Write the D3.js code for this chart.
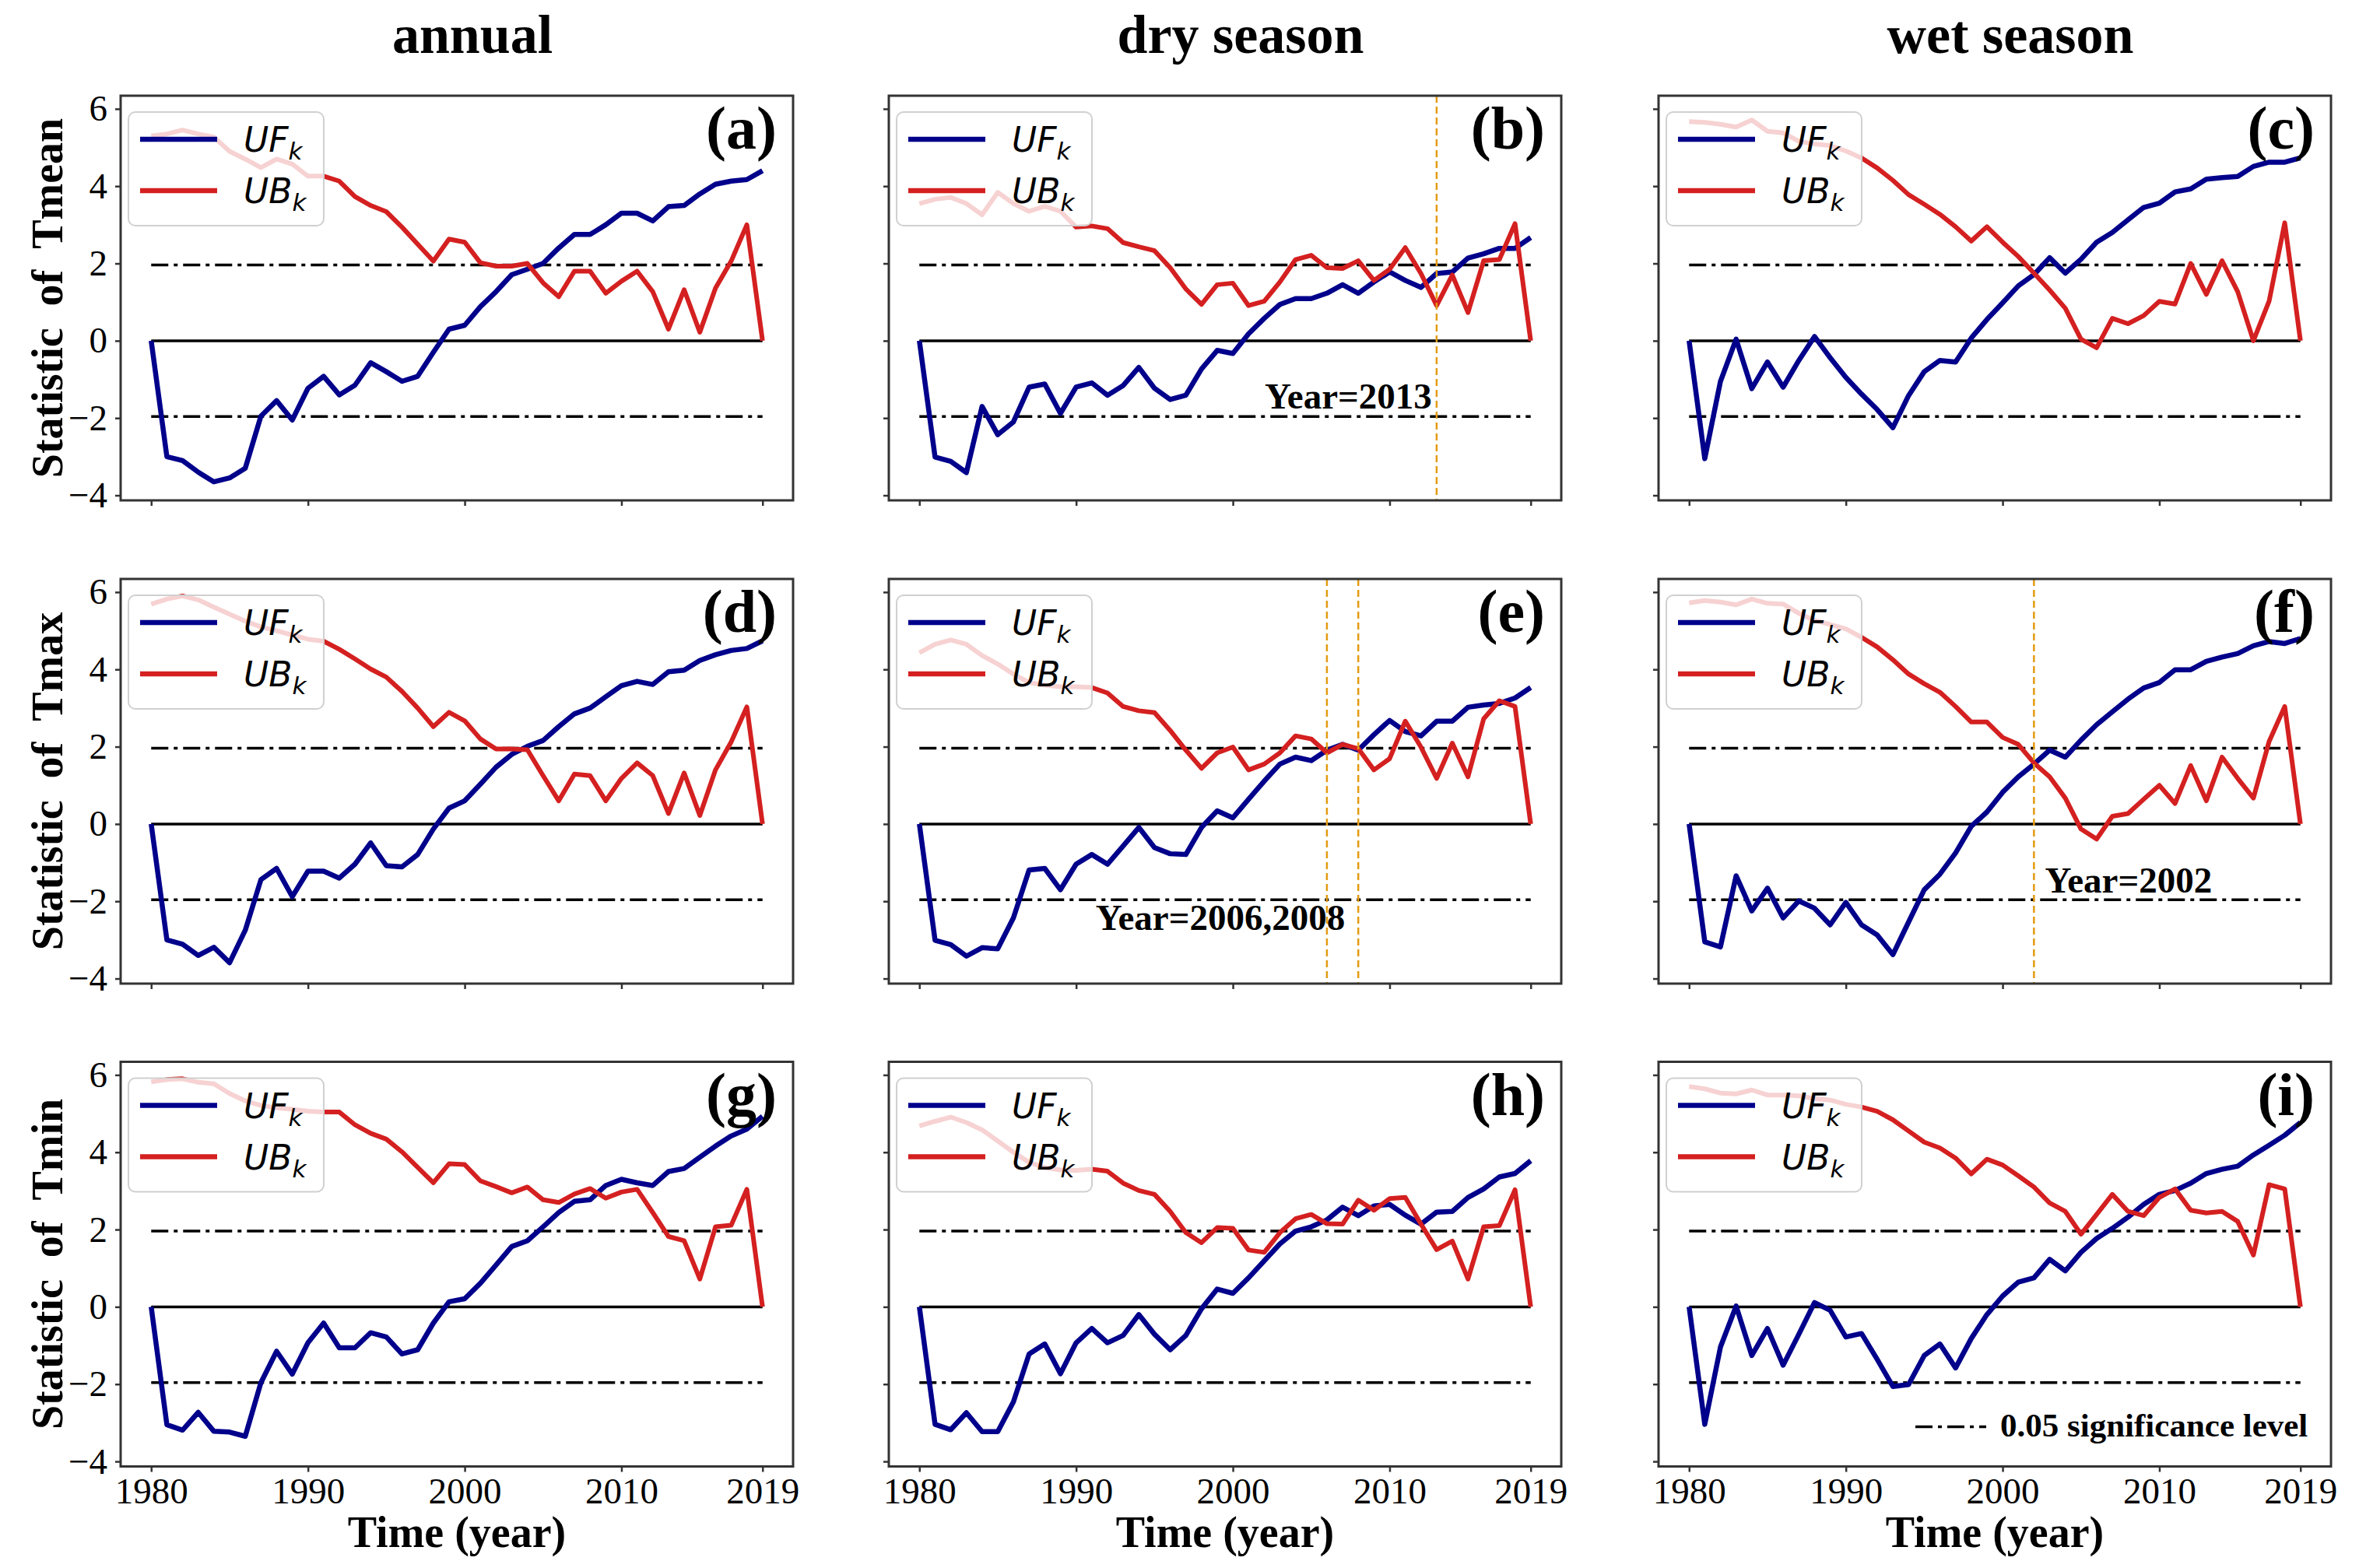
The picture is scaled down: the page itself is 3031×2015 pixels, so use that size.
<!DOCTYPE html>
<html>
<head>
<meta charset="utf-8">
<script src="https://cdn.jsdelivr.net/npm/d3@7"></script>
<style>
  body { margin: 0; background: #fff; }
</style>
</head>
<body>
<div id="app"></div>
<script>
const width = 3031,
    height = 2015;

const years = [1980, 1981, 1982, 1983, 1984, 1985, 1986, 1987, 1988, 1989,
    1990, 1991, 1992, 1993, 1994, 1995, 1996, 1997, 1998, 1999,
    2000, 2001, 2002, 2003, 2004, 2005, 2006, 2007, 2008, 2009,
    2010, 2011, 2012, 2013, 2014, 2015, 2016, 2017, 2018, 2019];

const columnTitles = ["annual", "dry season", "wet season"];
const rowVariables = ["Tmean", "Tmax", "Tmin"];
const xTicks = [1980, 1990, 2000, 2010, 2019];
const yTicks = [-4, -2, 0, 2, 4, 6];
const significance = 1.96;

// Tmean
const ufTmeanAnnual = [0, -3.0, -3.1, -3.4, -3.65, -3.55, -3.3, -1.95, -1.55, -2.05, -1.23, -0.92, -1.4, -1.15, -0.57, -0.8, -1.05, -0.92, -0.3, 0.3, 0.4, 0.88, 1.27, 1.71, 1.85, 2.0, 2.4, 2.75, 2.75, 3.0, 3.3, 3.3, 3.1, 3.47, 3.5, 3.8, 4.05, 4.13, 4.17, 4.4];
const ubTmeanAnnual = [5.3, 5.35, 5.45, 5.35, 5.27, 4.9, 4.7, 4.48, 4.7, 4.57, 4.26, 4.26, 4.13, 3.73, 3.5, 3.34, 2.94, 2.5, 2.06, 2.63, 2.55, 2.02, 1.93, 1.93, 2.0, 1.5, 1.14, 1.8, 1.8, 1.23, 1.54, 1.8, 1.27, 0.3, 1.32, 0.22, 1.36, 2.06, 3.0, 0];
const ufTmeanDry = [0, -3.01, -3.12, -3.41, -1.7, -2.43, -2.1, -1.2, -1.12, -1.88, -1.2, -1.09, -1.41, -1.16, -0.69, -1.23, -1.52, -1.41, -0.73, -0.25, -0.33, 0.18, 0.58, 0.94, 1.09, 1.09, 1.23, 1.45, 1.23, 1.52, 1.78, 1.56, 1.38, 1.74, 1.78, 2.14, 2.25, 2.39, 2.39, 2.67];
const ubTmeanDry = [3.55, 3.66, 3.71, 3.55, 3.26, 3.84, 3.55, 3.35, 3.48, 3.35, 2.94, 2.97, 2.9, 2.54, 2.43, 2.33, 1.89, 1.34, 0.94, 1.45, 1.49, 0.91, 1.02, 1.52, 2.1, 2.21, 1.89, 1.87, 2.07, 1.56, 1.85, 2.41, 1.74, 0.91, 1.7, 0.73, 2.07, 2.1, 3.03, 0];
const ufTmeanWet = [0, -3.05, -1.05, 0.04, -1.24, -0.55, -1.2, -0.51, 0.11, -0.44, -0.95, -1.38, -1.78, -2.25, -1.42, -0.8, -0.51, -0.55, 0.07, 0.55, 0.98, 1.42, 1.71, 2.15, 1.75, 2.11, 2.55, 2.8, 3.13, 3.45, 3.56, 3.85, 3.93, 4.18, 4.22, 4.25, 4.51, 4.62, 4.62, 4.73];
const ubTmeanWet = [5.67, 5.65, 5.6, 5.53, 5.71, 5.42, 5.38, 5.16, 5.09, 5.05, 4.91, 4.73, 4.47, 4.15, 3.78, 3.53, 3.27, 2.95, 2.58, 2.95, 2.55, 2.18, 1.75, 1.31, 0.84, 0.04, -0.18, 0.58, 0.44, 0.65, 1.02, 0.95, 2.0, 1.2, 2.07, 1.27, 0, 1.02, 3.05, 0];

// Tmax
const ufTmaxAnnual = [0, -3.0, -3.11, -3.4, -3.19, -3.59, -2.75, -1.44, -1.15, -1.88, -1.22, -1.22, -1.4, -1.04, -0.49, -1.08, -1.11, -0.79, -0.13, 0.41, 0.6, 1.03, 1.47, 1.8, 2.01, 2.16, 2.52, 2.85, 3.0, 3.29, 3.58, 3.69, 3.61, 3.94, 3.98, 4.23, 4.38, 4.49, 4.54, 4.74];
const ubTmaxAnnual = [5.69, 5.82, 5.9, 5.8, 5.61, 5.43, 5.25, 5.1, 5.0, 4.89, 4.78, 4.73, 4.52, 4.27, 4.01, 3.8, 3.43, 3.0, 2.52, 2.89, 2.67, 2.2, 1.94, 1.94, 1.92, 1.25, 0.6, 1.29, 1.25, 0.6, 1.18, 1.58, 1.25, 0.27, 1.32, 0.22, 1.4, 2.12, 3.03, 0];
const ufTmaxDry = [0, -3.01, -3.12, -3.42, -3.2, -3.23, -2.43, -1.19, -1.15, -1.7, -1.04, -0.79, -1.04, -0.57, -0.09, -0.61, -0.77, -0.79, -0.09, 0.34, 0.16, 0.64, 1.11, 1.55, 1.73, 1.64, 1.91, 2.06, 1.91, 2.31, 2.68, 2.39, 2.28, 2.66, 2.66, 3.02, 3.08, 3.12, 3.26, 3.53];
const ubTmaxDry = [4.43, 4.65, 4.76, 4.65, 4.36, 4.14, 3.88, 3.66, 3.59, 3.55, 3.55, 3.53, 3.39, 3.04, 2.93, 2.88, 2.42, 1.91, 1.44, 1.84, 1.99, 1.4, 1.55, 1.84, 2.28, 2.2, 1.84, 2.06, 1.95, 1.4, 1.69, 2.66, 1.99, 1.18, 2.09, 1.22, 2.72, 3.19, 3.04, 0];
const ufTmaxWet = [0, -3.05, -3.18, -1.34, -2.25, -1.66, -2.43, -1.99, -2.18, -2.61, -2.03, -2.61, -2.87, -3.38, -2.54, -1.7, -1.3, -0.75, -0.06, 0.31, 0.82, 1.22, 1.55, 1.91, 1.73, 2.17, 2.57, 2.9, 3.23, 3.52, 3.66, 3.99, 3.99, 4.21, 4.32, 4.41, 4.61, 4.72, 4.67, 4.8];
const ubTmaxWet = [5.72, 5.78, 5.74, 5.67, 5.82, 5.71, 5.69, 5.45, 5.27, 5.16, 5.05, 4.83, 4.58, 4.25, 3.88, 3.63, 3.41, 3.04, 2.64, 2.64, 2.24, 2.06, 1.58, 1.22, 0.67, -0.13, -0.39, 0.2, 0.27, 0.64, 1.0, 0.53, 1.51, 0.6, 1.73, 1.18, 0.67, 2.13, 3.04, 0];

// Tmin
const ufTminAnnual = [0, -3.05, -3.19, -2.73, -3.22, -3.24, -3.35, -1.96, -1.15, -1.74, -0.93, -0.42, -1.06, -1.06, -0.67, -0.78, -1.22, -1.11, -0.42, 0.13, 0.21, 0.61, 1.08, 1.56, 1.71, 2.07, 2.44, 2.73, 2.77, 3.14, 3.3, 3.21, 3.14, 3.5, 3.58, 3.87, 4.16, 4.42, 4.6, 4.93];
const ubTminAnnual = [5.82, 5.88, 5.9, 5.81, 5.77, 5.52, 5.33, 5.21, 5.15, 5.11, 5.06, 5.04, 5.04, 4.71, 4.49, 4.34, 4.01, 3.61, 3.21, 3.7, 3.68, 3.26, 3.11, 2.95, 3.1, 2.77, 2.7, 2.92, 3.06, 2.81, 2.97, 3.04, 2.44, 1.82, 1.71, 0.72, 2.07, 2.11, 3.04, 0];
const ufTminDry = [0, -3.04, -3.18, -2.74, -3.23, -3.23, -2.46, -1.22, -0.96, -1.73, -0.93, -0.56, -0.93, -0.74, -0.2, -0.71, -1.11, -0.74, -0.05, 0.46, 0.35, 0.75, 1.19, 1.63, 1.96, 2.07, 2.25, 2.58, 2.36, 2.61, 2.65, 2.37, 2.14, 2.45, 2.47, 2.83, 3.05, 3.36, 3.45, 3.78];
const ubTminDry = [4.68, 4.8, 4.91, 4.77, 4.58, 4.29, 4.0, 3.74, 3.6, 3.54, 3.53, 3.56, 3.51, 3.2, 3.01, 2.91, 2.47, 1.92, 1.66, 2.05, 2.03, 1.47, 1.41, 1.92, 2.28, 2.39, 2.15, 2.14, 2.76, 2.5, 2.8, 2.83, 2.14, 1.48, 1.7, 0.72, 2.07, 2.1, 3.03, 0];
const ufTminWet = [0, -3.04, -1.04, 0.02, -1.26, -0.56, -1.51, -0.71, 0.11, -0.09, -0.78, -0.69, -1.36, -2.06, -2.01, -1.26, -0.96, -1.58, -0.82, -0.2, 0.28, 0.64, 0.75, 1.23, 0.93, 1.41, 1.77, 2.03, 2.32, 2.65, 2.91, 3.01, 3.2, 3.45, 3.56, 3.64, 3.93, 4.18, 4.44, 4.77];
const ubTminWet = [5.7, 5.64, 5.53, 5.51, 5.61, 5.48, 5.48, 5.46, 5.39, 5.35, 5.24, 5.17, 5.06, 4.84, 4.55, 4.26, 4.11, 3.85, 3.44, 3.82, 3.67, 3.39, 3.1, 2.69, 2.47, 1.88, 2.39, 2.91, 2.47, 2.36, 2.83, 3.05, 2.5, 2.43, 2.47, 2.21, 1.34, 3.16, 3.05, 0];

// panels in reading order (a)..(i)
const panelLetters = ["a", "b", "c", "d", "e", "f", "g", "h", "i"];
const ufSeries = [ufTmeanAnnual, ufTmeanDry, ufTmeanWet, ufTmaxAnnual, ufTmaxDry, ufTmaxWet, ufTminAnnual, ufTminDry, ufTminWet];
const ubSeries = [ubTmeanAnnual, ubTmeanDry, ubTmeanWet, ubTmaxAnnual, ubTmaxDry, ubTmaxWet, ubTminAnnual, ubTminDry, ubTminWet];

// abrupt change points
const changeYears = [[], [2013], [], [], [2006, 2008], [2002], [], [], []];
const changeLabels = ["", "Year=2013", "", "", "Year=2006,2008", "Year=2002", "", "", ""];
const changeLabelX = [null, 2012.7, null, null, 1999.2, 2002.7, null, null, null];
const changeLabelY = [null, -1.75, null, null, -2.74, -1.77, null, null, null];
const changeLabelAnchor = [null, "end", null, null, "middle", "start", null, null, null];

// layout
const colLeft = [155, 1142, 2131],
    rowTop = [123, 744, 1364.5],
    panelW = 864,
    panelH = 520;

const serif = "Liberation Serif",
    blue = "#00008b",
    red = "#d42020",
    orange = "#e39b12";

var x = d3.scaleLinear().domain([1978.05, 2020.95]).range([0, panelW]);
var y = d3.scaleLinear().domain([-4.13, 6.34]).range([panelH, 0]);

const line = d3.line()
    .x((d, i) => x(years[i]))
    .y(d => y(d));

const svg = d3.select("#app")
    .append("svg")
    .attr("width", width)
    .attr("height", height)
    .style("background", "#fff");

const fmtTick = d => d < 0 ? "\u2212" + Math.abs(d) : String(d);

//Column titles
svg.selectAll("text.coltitle")
    .data(columnTitles).enter()
    .append("text")
    .attr("class", "coltitle")
    .attr("x", (d, i) => colLeft[i] + panelW / 2 + 20)
    .attr("y", 68)
    .attr("text-anchor", "middle")
    .attr("font-family", serif)
    .attr("font-size", 70)
    .attr("font-weight", "bold")
    .text(d => d);

//Row labels
svg.selectAll("text.rowlabel")
    .data(rowVariables).enter()
    .append("text")
    .attr("class", "rowlabel")
    .attr("transform", (d, i) => "translate(80," + (rowTop[i] + panelH / 2) + ") rotate(-90)")
    .attr("text-anchor", "middle")
    .attr("font-family", serif)
    .attr("font-size", 56)
    .attr("font-weight", "bold")
    .style("white-space", "pre")
    .text(d => "Statistic  of  " + d);

//X labels
svg.selectAll("text.xlabel")
    .data(colLeft).enter()
    .append("text")
    .attr("class", "xlabel")
    .attr("x", d => d + panelW / 2)
    .attr("y", 1988)
    .attr("text-anchor", "middle")
    .attr("font-family", serif)
    .attr("font-size", 56)
    .attr("font-weight", "bold")
    .text("Time (year)");

panelLetters.forEach((letter, p) => {
    const row = Math.floor(p / 3), col = p % 3;
    const g = svg.append("g")
        .attr("transform", "translate(" + colLeft[col] + "," + rowTop[row] + ")");

    //X-Axis
    const xAxis = d3.axisBottom(x).tickValues(xTicks).tickSize(7).tickPadding(7)
        .tickFormat(row === 2 ? d3.format("d") : () => "");
    const gx = g.append("g")
        .attr("transform", "translate(0," + panelH + ")")
        .call(xAxis);

    //Y-Axis
    const yAxis = d3.axisLeft(y).tickValues(yTicks).tickSize(7).tickPadding(10)
        .tickFormat(col === 0 ? fmtTick : () => "");
    const gy = g.append("g").call(yAxis);

    [gx, gy].forEach(ax => {
        ax.attr("font-family", serif).attr("font-size", 47);
        ax.select(".domain").remove();
        ax.selectAll(".tick line").attr("stroke", "#333").attr("stroke-width", 2.5);
        ax.selectAll(".tick text").attr("fill", "#000");
    });

    //Reference lines
    g.append("line")
        .attr("x1", x(years[0])).attr("x2", x(years[years.length - 1]))
        .attr("y1", y(0)).attr("y2", y(0))
        .attr("stroke", "#000").attr("stroke-width", 3.5);

    g.selectAll("line.sig")
        .data([significance, -significance]).enter()
        .append("line")
        .attr("class", "sig")
        .attr("x1", x(years[0])).attr("x2", x(years[years.length - 1]))
        .attr("y1", d => y(d)).attr("y2", d => y(d))
        .attr("stroke", "#000").attr("stroke-width", 3.5)
        .attr("stroke-dasharray", "22,7,5,7");

    //UF, UB
    g.append("path")
        .datum(ufSeries[p])
        .attr("d", line)
        .attr("fill", "none")
        .attr("stroke", blue)
        .attr("stroke-width", 6.5)
        .attr("stroke-linejoin", "round");

    g.append("path")
        .datum(ubSeries[p])
        .attr("d", line)
        .attr("fill", "none")
        .attr("stroke", red)
        .attr("stroke-width", 6)
        .attr("stroke-linejoin", "round");

    //Change points
    g.selectAll("line.change")
        .data(changeYears[p]).enter()
        .append("line")
        .attr("class", "change")
        .attr("x1", d => x(d)).attr("x2", d => x(d))
        .attr("y1", 0).attr("y2", panelH)
        .attr("stroke", orange).attr("stroke-width", 2.5)
        .attr("stroke-dasharray", "9,5");

    if (changeLabels[p]) {
        g.append("text")
            .attr("x", x(changeLabelX[p]))
            .attr("y", y(changeLabelY[p]))
            .attr("text-anchor", changeLabelAnchor[p])
            .attr("font-family", serif)
            .attr("font-size", 47)
            .attr("font-weight", "bold")
            .text(changeLabels[p]);
    }

    //Frame
    g.append("rect")
        .attr("width", panelW).attr("height", panelH)
        .attr("fill", "none")
        .attr("stroke", "#333").attr("stroke-width", 3);

    //Legend
    const lg = g.append("g");
    lg.append("rect")
        .attr("x", 10).attr("y", 21)
        .attr("width", 251).attr("height", 146)
        .attr("rx", 9)
        .attr("fill", "#fff").attr("fill-opacity", 0.8)
        .attr("stroke", "#d0d0d0").attr("stroke-width", 2);
    [["UF", blue, 56], ["UB", red, 122]].forEach(([name, color, ly]) => {
        lg.append("line")
            .attr("x1", 25).attr("x2", 124)
            .attr("y1", ly).attr("y2", ly)
            .attr("stroke", color).attr("stroke-width", 6.5);
        const t = lg.append("text")
            .attr("x", 158).attr("y", ly + 16)
            .attr("font-family", "DejaVu Sans")
            .attr("font-style", "italic")
            .attr("font-size", 44);
        t.append("tspan").text(name);
        t.append("tspan").attr("dy", 10).attr("font-size", 31).text("k");
    });

    //Panel letter
    g.append("text")
        .attr("x", panelW - 21)
        .attr("y", 68)
        .attr("text-anchor", "end")
        .attr("font-family", serif)
        .attr("font-size", 78)
        .attr("font-weight", "bold")
        .text("(" + letter + ")");

    //Significance legend
    if (p === 8) {
        g.append("line")
            .attr("x1", 330).attr("x2", 421)
            .attr("y1", 469).attr("y2", 469)
            .attr("stroke", "#000").attr("stroke-width", 3.5)
            .attr("stroke-dasharray", "22,7,5,7");
        g.append("text")
            .attr("x", 439).attr("y", 481)
            .attr("font-family", serif)
            .attr("font-size", 43)
            .attr("font-weight", "bold")
            .text("0.05 significance level");
    }
});
</script>
</body>
</html>
